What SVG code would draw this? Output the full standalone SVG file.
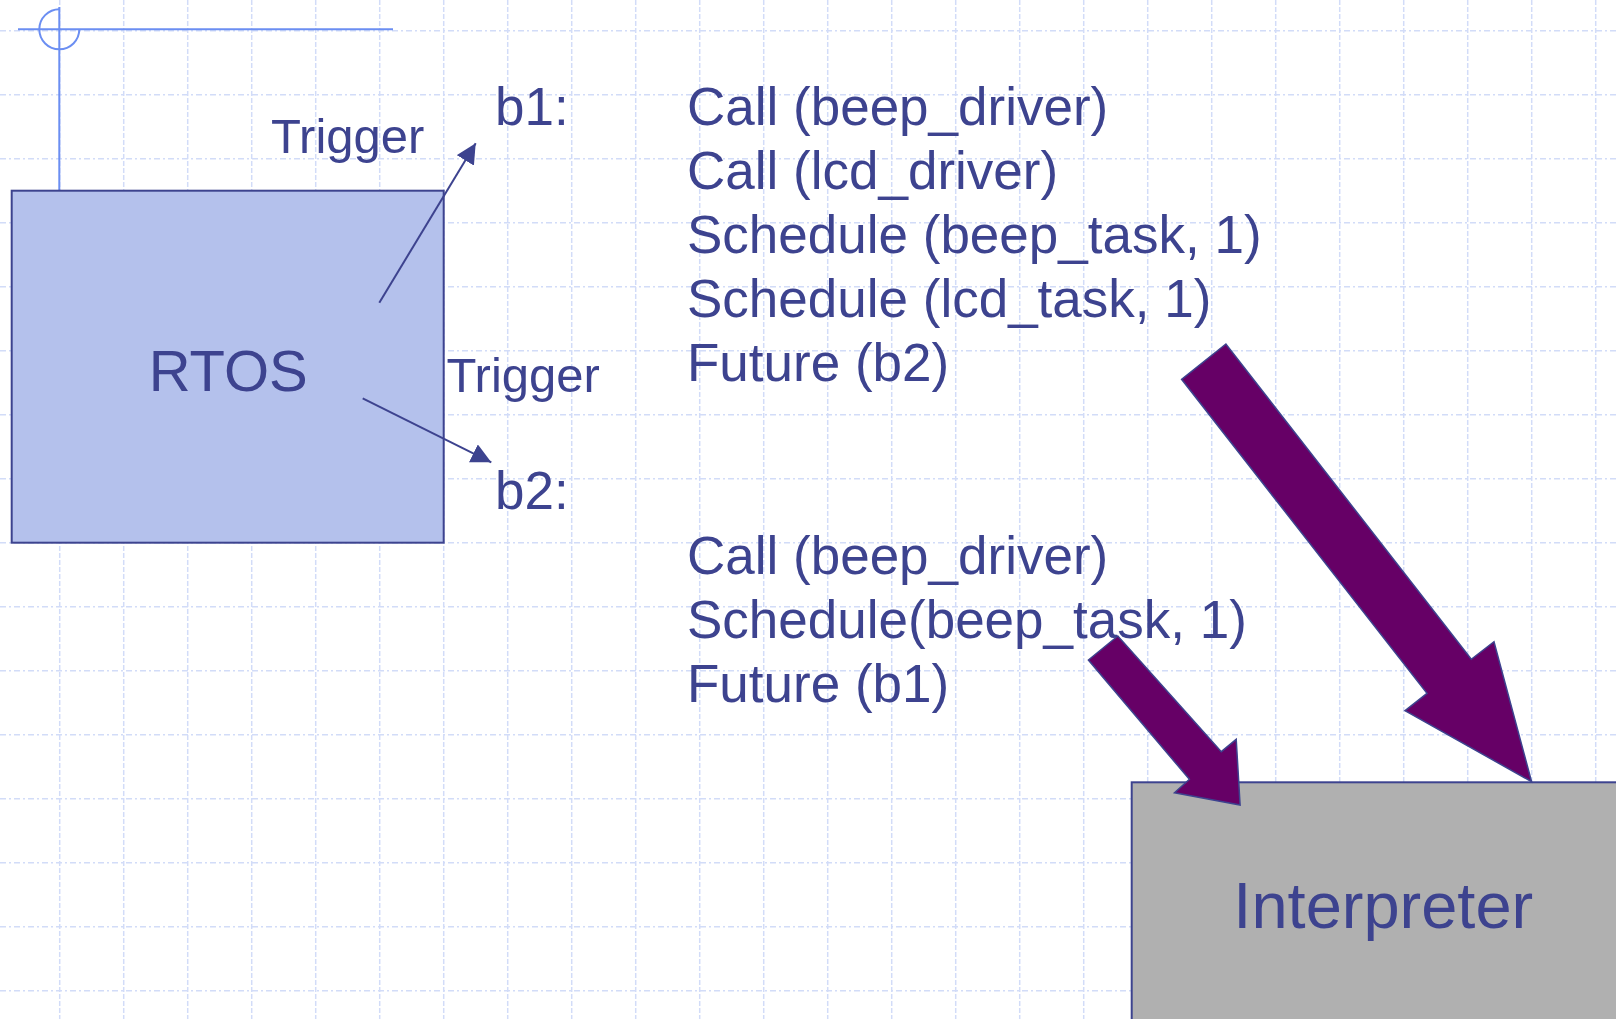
<svg xmlns="http://www.w3.org/2000/svg" width="1616" height="1019" viewBox="0 0 1616 1019">
<style>
.t{font-family:"Liberation Sans",Arial,sans-serif;fill:#3d438f}
.code{font-size:53px}
.lbl{font-size:49px}
.conn{stroke:#3d438f;stroke-width:2;fill:none}
.big{fill:#660066;stroke:#3d438f;stroke-width:1.5;stroke-linejoin:miter}
</style>
<defs>
<marker id="ah" viewBox="0 0 20 20" refX="20" refY="10" markerWidth="20" markerHeight="20" markerUnits="userSpaceOnUse" orient="auto">
<path d="M0,0 L20,10 L0,20 Z" fill="#3d438f"/>
</marker>
</defs>
<rect width="1616" height="1019" fill="#ffffff"/>
<g id="grid" stroke="#d2dcf8" stroke-width="1.5" fill="none">
<path stroke-dasharray="6 3 2 3" d="M0,30.7H1616M0,94.7H1616M0,158.7H1616M0,222.7H1616M0,286.7H1616M0,350.7H1616M0,414.7H1616M0,478.7H1616M0,542.7H1616M0,606.7H1616M0,670.7H1616M0,734.7H1616M0,798.7H1616M0,862.7H1616M0,926.7H1616M0,990.7H1616"/>
<path stroke-dasharray="5 2" d="M59.7,0V1019M123.7,0V1019M187.7,0V1019M251.7,0V1019M315.7,0V1019M379.7,0V1019M443.7,0V1019M507.7,0V1019M571.7,0V1019M635.7,0V1019M699.7,0V1019M763.7,0V1019M827.7,0V1019M891.7,0V1019M955.7,0V1019M1019.7,0V1019M1083.7,0V1019M1147.7,0V1019M1211.7,0V1019M1275.7,0V1019M1339.7,0V1019M1403.7,0V1019M1467.7,0V1019M1531.7,0V1019M1595.7,0V1019"/>
</g>
<g id="crosshair" stroke="#6b8ef2" stroke-width="2" fill="none">
<path d="M18,29.3H393"/>
<path d="M59.3,7V190.7"/>
<path d="M59.3,9.3A20,20 0 1 0 79.3,29.3"/>
</g>
<g id="rtos">
<rect x="11.7" y="190.7" width="432" height="352" fill="#b4c1ec" stroke="#3d438f" stroke-width="2"/>
<text class="t" x="228.3" y="391" font-size="58" text-anchor="middle">RTOS</text>
</g>
<g id="interpreter">
<rect x="1131.7" y="782.3" width="500" height="300" fill="#b0b0b0" stroke="#3d438f" stroke-width="2"/>
<text class="t" x="1383.3" y="928.3" font-size="65" text-anchor="middle">Interpreter</text>
</g>
<g id="b1">
<text class="t code" x="495" y="125">b1:</text>
</g>
<g id="b2">
<text class="t code" x="495" y="508.5">b2:</text>
</g>
<g id="b1-code">
<text class="t code" x="687" y="125">Call (beep_driver)</text>
<text class="t code" x="687" y="189">Call (lcd_driver)</text>
<text class="t code" x="687" y="253">Schedule (beep_task, 1)</text>
<text class="t code" x="687" y="317">Schedule (lcd_task, 1)</text>
<text class="t code" x="687" y="381">Future (b2)</text>
</g>
<g id="b2-code">
<text class="t code" x="687" y="573.5">Call (beep_driver)</text>
<text class="t code" x="687" y="637.5">Schedule(beep_task, 1)</text>
<text class="t code" x="687" y="701.5">Future (b1)</text>
</g>
<g id="connectors">
<line class="conn" x1="379.3" y1="302.7" x2="475.7" y2="143.3" marker-end="url(#ah)"/>
<text class="t lbl" x="271" y="152.7">Trigger</text>
<line class="conn" x1="362.7" y1="398.3" x2="491.3" y2="462.3" marker-end="url(#ah)"/>
<text class="t lbl" x="446.5" y="391.7">Trigger</text>
<path class="big" d="M1225.9,344 L1181.6,379.3 L1427,693.3 L1405,710.7 L1531.6,781.7 L1494,641.7 L1471.3,659.3 Z"/>
<path class="big" d="M1117.8,636 L1088.4,660 L1189.4,779.3 L1174.5,792.7 L1240.1,805 L1236.2,739.3 L1221.3,751.7 Z"/>
</g>
</svg>
